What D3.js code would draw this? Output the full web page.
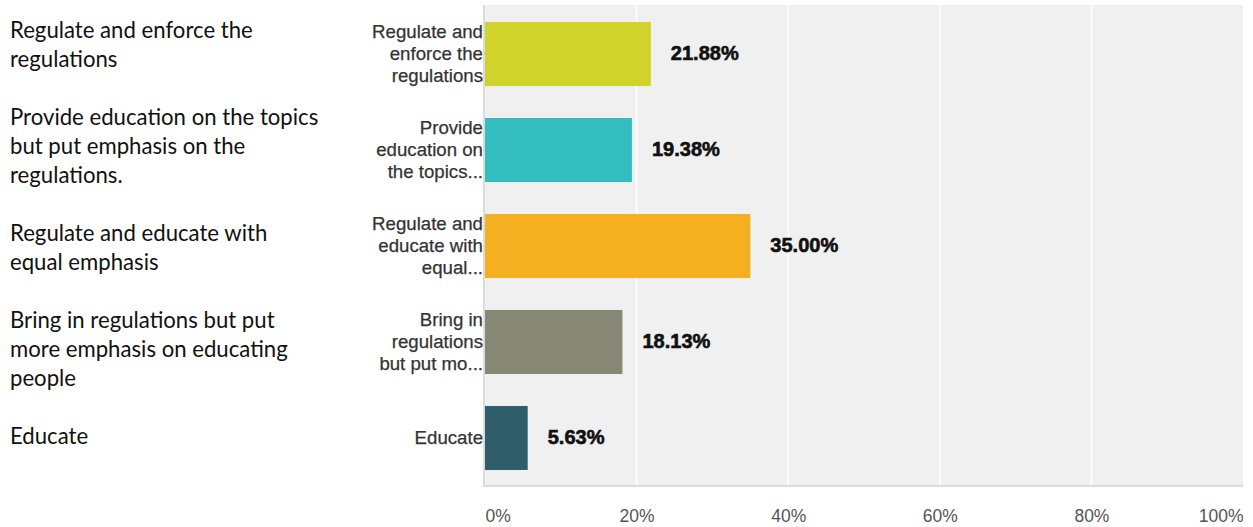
<!DOCTYPE html>
<html>
<head>
<meta charset="utf-8">
<script src="https://cdn.jsdelivr.net/npm/d3@7"></script>
<style>
  html, body { margin: 0; padding: 0; background: #fff; }
  svg { display: block; }
</style>
</head>
<body>
<svg id="chart" width="1253" height="527"></svg>
<script>
// Survey answer choices, as listed beside the chart
const categories = [
  "Regulate and enforce the regulations",
  "Provide education on the topics but put emphasis on the regulations.",
  "Regulate and educate with equal emphasis",
  "Bring in regulations but put more emphasis on educating people",
  "Educate"
];
// Wrapped text lines shown in the list on the left
const listLines = [
  ["Regulate and enforce the", "regulations"],
  ["Provide education on the topics", "but put emphasis on the", "regulations."],
  ["Regulate and educate with", "equal emphasis"],
  ["Bring in regulations but put", "more emphasis on educating", "people"],
  ["Educate"]
];
// Shortened axis labels next to each bar
const axisLabels = [
  ["Regulate and", "enforce the", "regulations"],
  ["Provide", "education on", "the topics..."],
  ["Regulate and", "educate with", "equal..."],
  ["Bring in", "regulations", "but put mo..."],
  ["Educate"]
];
// Share of responses (%)
const values = [21.88, 19.38, 35.00, 18.13, 5.63];
const tickValues = [0, 20, 40, 60, 80, 100];
const barColors = ["#cfd32a", "#33bdbf", "#f5b021", "#878776", "#2f5d6a"];

const svg = d3.select("#chart");

// Pick a font size so that a sample string spans a given width
function fitSize(family, weight, sample, width) {
  const t = svg.append("text")
    .attr("font-family", family).attr("font-weight", weight)
    .attr("font-size", 100).text(sample);
  const w = t.node().getComputedTextLength();
  t.remove();
  return 100 * width / w;
}

const listFont = "Lato, 'Open Sans', sans-serif";
const chartFont = "'Liberation Sans', Arial, sans-serif";
const listSize = fitSize(listFont, 400, "Regulate and enforce the", 243);
const catSize = fitSize(chartFont, 400, "Regulate and", 111);
const valSize = fitSize(chartFont, 700, "21.88%", 68);
const tickSize = fitSize(chartFont, 400, "20%", 35);

// ---- List of answer choices on the left ----
const lineStep = 29, paraGap = 58;
let baseline = 38;
const listG = svg.append("g");
listLines.forEach((lines, i) => {
  lines.forEach((ln, j) => {
    listG.append("text")
      .attr("x", 10).attr("y", baseline + j * lineStep)
      .attr("font-family", listFont).attr("font-size", listSize)
      .attr("fill", "#111").text(ln);
  });
  baseline += (lines.length - 1) * lineStep + paraGap;
});

// ---- Bar chart ----
const x = d3.scaleLinear().domain([0, 100]).range([485, 1243]);
const y = d3.scaleBand().domain(categories).range([6, 486])
  .paddingInner(1 / 3).paddingOuter(1 / 6);

// plot background
svg.append("rect")
  .attr("x", x(0) - 2).attr("y", 5)
  .attr("width", x(100) - x(0) + 2).attr("height", 481)
  .attr("fill", "#f0f0f0");

// vertical grid lines
svg.append("g").selectAll("line")
  .data(tickValues.filter(d => d > 0 && d < 100))
  .join("line")
  .attr("x1", d => x(d)).attr("x2", d => x(d))
  .attr("y1", 5).attr("y2", 486)
  .attr("stroke", "#ffffff").attr("stroke-width", 1.5);

// left and bottom frame
svg.append("line")
  .attr("x1", x(0) - 1).attr("x2", x(0) - 1).attr("y1", 5).attr("y2", 487)
  .attr("stroke", "#dcdcdc").attr("stroke-width", 2);
svg.append("line")
  .attr("x1", x(0) - 2).attr("x2", x(100)).attr("y1", 486).attr("y2", 486)
  .attr("stroke", "#dcdcdc").attr("stroke-width", 2);

// bars
svg.append("g").selectAll("rect")
  .data(values)
  .join("rect")
  .attr("x", x(0))
  .attr("y", (d, i) => y(categories[i]))
  .attr("width", d => x(d) - x(0))
  .attr("height", y.bandwidth())
  .attr("fill", (d, i) => barColors[i]);

// value labels
svg.append("g").selectAll("text")
  .data(values)
  .join("text")
  .attr("x", d => x(d) + 20)
  .attr("y", (d, i) => y(categories[i]) + y.bandwidth() / 2 + 6)
  .attr("font-family", chartFont).attr("font-weight", 700)
  .attr("font-size", valSize).attr("fill", "#111")
  .attr("stroke", "#111").attr("stroke-width", 0.6)
  .text(d => d.toFixed(2) + "%");

// category labels (wrapped, right aligned against the axis)
const catG = svg.append("g");
axisLabels.forEach((lines, i) => {
  const cy = y(categories[i]) + y.bandwidth() / 2 + 6;
  const first = cy - (lines.length - 1) / 2 * 22;
  lines.forEach((ln, j) => {
    catG.append("text")
      .attr("x", x(0) - 2).attr("y", first + j * 22)
      .attr("text-anchor", "end")
      .attr("font-family", chartFont).attr("font-size", catSize)
      .attr("fill", "#333").attr("stroke", "#333").attr("stroke-width", 0.25)
      .text(ln);
  });
});

// x axis tick labels
const axis = d3.axisBottom(x).tickValues(tickValues)
  .tickSize(0).tickFormat(d => d + "%");
const axG = svg.append("g").attr("transform", "translate(0,486)").call(axis);
axG.select(".domain").remove();
axG.selectAll("text")
  .attr("y", 36).attr("dy", null)
  .attr("font-family", chartFont).attr("font-size", tickSize)
  .attr("fill", "#555")
  .attr("text-anchor", d => d === 0 ? "start" : (d === 100 ? "end" : "middle"));
</script>
</body>
</html>
